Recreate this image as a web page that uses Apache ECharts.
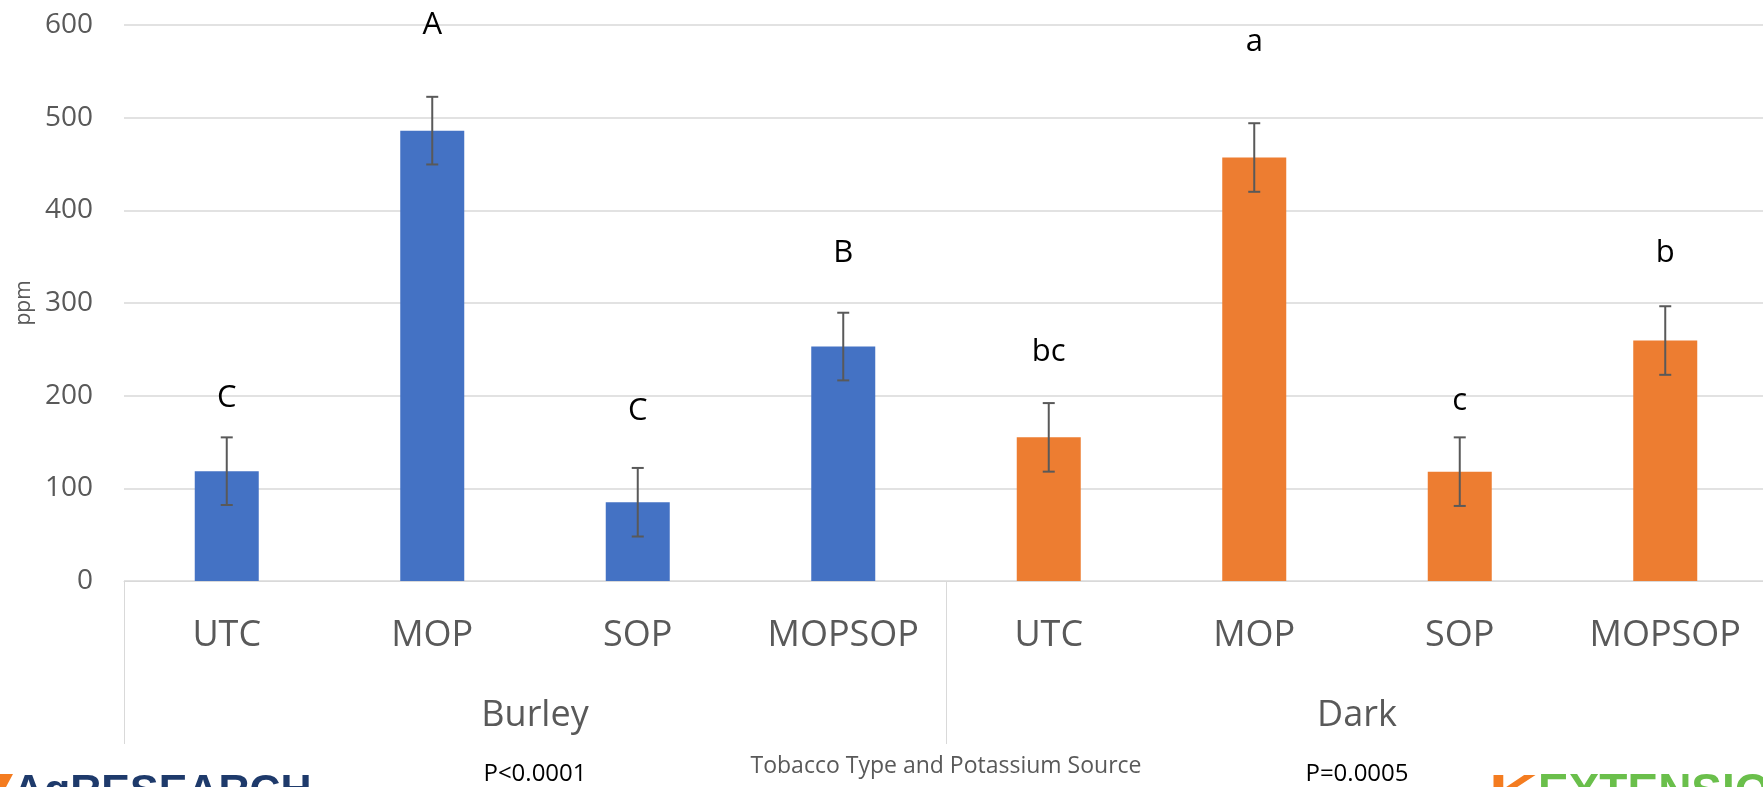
<!DOCTYPE html>
<html>
<head>
<meta charset="utf-8">
<script src="https://cdn.jsdelivr.net/npm/echarts@6/dist/echarts.min.js"></script>
<style>
  html, body { margin: 0; padding: 0; background: #ffffff; }
  #chart { width: 1763px; height: 787px; }
</style>
</head>
<body>
<div id="chart"></div>
<script>
// Leaf chloride (ppm) by tobacco type and potassium source
const potassiumSources = ['UTC', 'MOP', 'SOP', 'MOPSOP'];
const tobaccoTypes = ['Burley', 'Dark'];
const pValues = ['P<0.0001', 'P=0.0005'];

const burleyPpm = [118.5, 486, 85, 253];
const darkPpm = [155, 457, 118, 259.5];
const burleyErr = [36.5, 36.5, 37, 36.5];
const darkErr = [37, 37, 37, 37];

// mean-separation letters and the height (ppm) each one sits at
const burleyLetters = ['C', 'A', 'C', 'B'];
const darkLetters = ['bc', 'a', 'c', 'b'];
const burleyLetterAt = [197.5, 600, 183, 354];
const darkLetterAt = [247, 581, 194, 354];

const yTicks = [0, 100, 200, 300, 400, 500, 600];

const FONT = '"Open Sans", "Noto Sans", sans-serif';
const LOGO_FONT = '"Liberation Sans", "DejaVu Sans", sans-serif';
const GREY_TEXT = '#595959';
const GRID_LINE = '#d9d9d9';
const BLUE = '#4472C4';
const ORANGE = '#ED7D31';

const categories = tobaccoTypes.flatMap(() => potassiumSources);
const blank = potassiumSources.map(() => '-');
const allPpm = burleyPpm.concat(darkPpm);
const allErr = burleyErr.concat(darkErr);
const errorData = allPpm.map((v, i) => [i, v - allErr[i], v + allErr[i]]);
const letterAt = burleyLetterAt.concat(darkLetterAt);
const letterData = burleyLetters.concat(darkLetters).map((t, i) => [i, letterAt[i], t]);

const chart = echarts.init(document.getElementById('chart'), null, { renderer: 'canvas' });

chart.setOption({
  animation: false,
  backgroundColor: '#ffffff',
  textStyle: { fontFamily: FONT },
  // the plot runs a little past the right edge of the page
  grid: { left: 124, top: 25, width: 1644, height: 556, containLabel: false, outerBoundsMode: 'none' },
  xAxis: [
    {
      type: 'category',
      data: categories,
      axisLine: { show: true, lineStyle: { color: GRID_LINE, width: 1 } },
      axisTick: { show: false },
      axisLabel: { color: GREY_TEXT, fontSize: 36, fontFamily: FONT, margin: 55, verticalAlign: 'middle', interval: 0 },
      splitLine: { show: false },
      name: 'Tobacco Type and Potassium Source',
      nameLocation: 'middle',
      nameGap: 185,
      nameTextStyle: { color: GREY_TEXT, fontSize: 23, fontFamily: FONT, verticalAlign: 'middle' }
    },
    {
      type: 'category',
      data: tobaccoTypes,
      position: 'bottom',
      axisLine: { show: false },
      axisTick: { show: true, length: 163, lineStyle: { color: GRID_LINE, width: 1 } },
      axisLabel: { color: GREY_TEXT, fontSize: 36, fontFamily: FONT, margin: 135, verticalAlign: 'middle' },
      splitLine: { show: false }
    },
    {
      type: 'category',
      data: tobaccoTypes,
      position: 'bottom',
      axisLine: { show: false },
      axisTick: { show: false },
      axisLabel: {
        color: '#000000', fontSize: 24, fontFamily: FONT, margin: 193, verticalAlign: 'middle',
        formatter: (val, idx) => pValues[idx]
      },
      splitLine: { show: false }
    }
  ],
  yAxis: {
    type: 'value',
    min: yTicks[0],
    max: yTicks[yTicks.length - 1],
    interval: 100,
    axisLine: { show: false },
    axisTick: { show: false },
    axisLabel: { color: GREY_TEXT, fontSize: 28, fontFamily: FONT, margin: 31 },
    splitLine: { show: true, lineStyle: { color: GRID_LINE, width: 1.5 } },
    name: 'ppm',
    nameLocation: 'middle',
    nameRotate: 90,
    nameGap: 89,
    nameTextStyle: { color: GREY_TEXT, fontSize: 21, fontFamily: FONT }
  },
  series: [
    {
      name: 'Burley',
      type: 'bar',
      xAxisIndex: 0,
      data: burleyPpm.concat(blank),
      barWidth: 64,
      barGap: '-100%',
      itemStyle: { color: BLUE }
    },
    {
      name: 'Dark',
      type: 'bar',
      xAxisIndex: 0,
      data: blank.concat(darkPpm),
      barWidth: 64,
      barGap: '-100%',
      itemStyle: { color: ORANGE }
    },
    {
      name: 'error',
      type: 'custom',
      xAxisIndex: 0,
      data: errorData,
      z: 5,
      renderItem: (params, api) => {
        const x = api.value(0);
        const lo = api.coord([x, api.value(1)]);
        const hi = api.coord([x, api.value(2)]);
        const cap = 6;
        const style = { stroke: '#595959', lineWidth: 2 };
        return {
          type: 'group',
          children: [
            { type: 'line', shape: { x1: hi[0], y1: hi[1], x2: lo[0], y2: lo[1] }, style },
            { type: 'line', shape: { x1: hi[0] - cap, y1: hi[1], x2: hi[0] + cap, y2: hi[1] }, style },
            { type: 'line', shape: { x1: lo[0] - cap, y1: lo[1], x2: lo[0] + cap, y2: lo[1] }, style }
          ]
        };
      }
    },
    {
      name: 'letters',
      type: 'custom',
      xAxisIndex: 0,
      data: letterData,
      z: 6,
      renderItem: (params, api) => {
        const p = api.coord([api.value(0), api.value(1)]);
        return {
          type: 'text',
          x: p[0],
          y: p[1],
          style: {
            text: letterData[params.dataIndex][2],
            fill: '#000000',
            fontSize: 31,
            fontFamily: FONT,
            align: 'center',
            verticalAlign: 'middle'
          }
        };
      }
    }
  ],
  graphic: [
    // AgResearch mark, bottom left
    {
      type: 'polygon',
      shape: { points: [[0, 774], [13, 774], [6, 787], [0, 787]] },
      style: { fill: '#F47C20' }
    },
    {
      type: 'text',
      left: 13,
      top: 771,
      style: { text: 'AgRESEARCH', fill: '#1E3A6B', fontSize: 43, fontWeight: 900, fontFamily: LOGO_FONT }
    },
    // Extension mark, bottom right
    {
      type: 'text',
      x: 1489,
      y: 771,
      scaleX: 1.5,
      style: { text: 'K', fill: '#F47C20', fontSize: 45, fontWeight: 900, fontFamily: LOGO_FONT }
    },
    {
      type: 'text',
      left: 1538,
      top: 770,
      style: { text: 'EXTENSION', fill: '#6ABF4B', fontSize: 46, fontWeight: 900, fontFamily: LOGO_FONT }
    }
  ]
});
</script>
</body>
</html>
